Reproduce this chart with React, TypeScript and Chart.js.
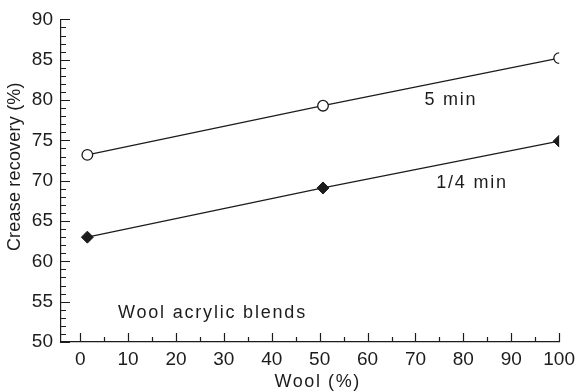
import React, { useEffect, useRef } from "react";
import { Chart, registerables } from "chart.js";

Chart.register(...registerables);

// ---- data ----
const woolX5: number[] = [1.5, 50.7, 100];
const recovery5: number[] = [73.2, 79.3, 85.2];
const woolXQ: number[] = [1.5, 50.7, 100];
const recoveryQ: number[] = [63.0, 69.1, 74.9];
const seriesNames: string[] = ["5 min", "1/4 min"];
const xTickValues: number[] = [0, 10, 20, 30, 40, 50, 60, 70, 80, 90, 100];
const yTickValues: number[] = [50, 55, 60, 65, 70, 75, 80, 85, 90];
const xTitle = "Wool (%)";
const yTitle = "Crease recovery (%)";
const noteText = "Wool acrylic blends";

const FONT = '"Liberation Sans", Arial, Helvetica, sans-serif';
const INK = "#1e1b1c";

export default function App() {
  const ref = useRef<HTMLCanvasElement | null>(null);

  useEffect(() => {
    const canvas = ref.current;
    if (!canvas) return;

    const decor = {
      id: "decor",
      beforeDatasetsDraw(chart: any) {
        const { ctx, chartArea } = chart;
        const xs = chart.scales.x;
        const ys = chart.scales.y;
        ctx.save();
        ctx.strokeStyle = INK;
        ctx.lineWidth = 1.2;
        ctx.beginPath();
        for (let v = 50; v <= 90; v += 1) {
          const p = Math.round(ys.getPixelForValue(v)) + 0.5;
          const len = v % 5 === 0 ? 9 : 5;
          ctx.moveTo(chartArea.left, p);
          ctx.lineTo(chartArea.left + len, p);
        }
        for (let v = 0; v <= 100; v += 5) {
          const p = Math.round(xs.getPixelForValue(v)) + 0.5;
          const len = v % 10 === 0 ? 9 : 5;
          ctx.moveTo(p, chartArea.bottom);
          ctx.lineTo(p, chartArea.bottom - len);
        }
        ctx.stroke();
        ctx.restore();
      },
      afterDraw(chart: any) {
        const { ctx, chartArea } = chart;
        const xs = chart.scales.x;
        const ys = chart.scales.y;
        ctx.save();
        ctx.fillStyle = INK;
        ctx.font = `18px ${FONT}`;
        ctx.textBaseline = "middle";
        (ctx as any).letterSpacing = "1.8px";
        ctx.textAlign = "center";
        ctx.fillText(seriesNames[0], xs.getPixelForValue(77.4), ys.getPixelForValue(80.0));
        ctx.fillText(seriesNames[1], xs.getPixelForValue(81.8), ys.getPixelForValue(69.7));
        ctx.textAlign = "left";
        ctx.fillText(noteText, xs.getPixelForValue(7.9), ys.getPixelForValue(53.6));
        (ctx as any).letterSpacing = "1.6px";
        ctx.textAlign = "center";
        const cx = (xs.getPixelForValue(0) + xs.getPixelForValue(100)) / 2 - 2;
        ctx.fillText(xTitle, cx, chart.height - 10);
        (ctx as any).letterSpacing = "0.2px";
        ctx.translate(15, (chartArea.top + chartArea.bottom) / 2 - 14);
        ctx.rotate(-Math.PI / 2);
        ctx.fillText(yTitle, 0, 0);
        ctx.restore();
      },
    };

    const chart = new Chart(canvas, {
      type: "scatter",
      data: {
        datasets: [
          {
            label: seriesNames[0],
            data: woolX5.map((x, i) => ({ x, y: recovery5[i] })),
            showLine: true,
            borderColor: INK,
            borderWidth: 1.2,
            pointStyle: "circle",
            pointRadius: 5.3,
            pointBackgroundColor: "#ffffff",
            pointBorderColor: INK,
            pointBorderWidth: 1.3,
          },
          {
            label: seriesNames[1],
            data: woolXQ.map((x, i) => ({ x, y: recoveryQ[i] })),
            showLine: true,
            borderColor: INK,
            borderWidth: 1.2,
            pointStyle: "rectRot",
            pointRadius: 6,
            pointBackgroundColor: INK,
            pointBorderColor: INK,
            pointBorderWidth: 1,
          },
        ],
      },
      options: {
        responsive: false,
        animation: false,
        layout: { padding: { top: 15, right: 18, left: 0, bottom: 0 } },
        plugins: { legend: { display: false }, tooltip: { enabled: false } },
        scales: {
          x: {
            type: "linear",
            min: -4,
            max: 100,
            grid: { display: false, drawTicks: false },
            border: { display: true, color: INK, width: 1.2 },
            ticks: {
              padding: 6,
              color: INK,
              font: { family: FONT, size: 19 },
              maxRotation: 0,
              autoSkip: false,
            },
            afterBuildTicks: (s: any) => {
              s.ticks = xTickValues.map((v) => ({ value: v }));
            },
            afterFit: (s: any) => {
              s.height = 50;
            },
          },
          y: {
            type: "linear",
            min: 50,
            max: 90,
            grid: { display: false, drawTicks: false },
            border: { display: true, color: INK, width: 1.2 },
            ticks: {
              padding: 8,
              color: INK,
              font: { family: FONT, size: 19 },
            },
            afterBuildTicks: (s: any) => {
              s.ticks = yTickValues.map((v) => ({ value: v }));
            },
            afterFit: (s: any) => {
              s.width = 61;
            },
          },
        },
      },
      plugins: [decor],
    });

    return () => chart.destroy();
  }, []);

  return (
    <div style={{ position: "fixed", left: 0, top: 0, width: 581, height: 392, background: "#fff" }}>
      <canvas ref={ref} width={581} height={392} style={{ display: "block" }} />
    </div>
  );
}
